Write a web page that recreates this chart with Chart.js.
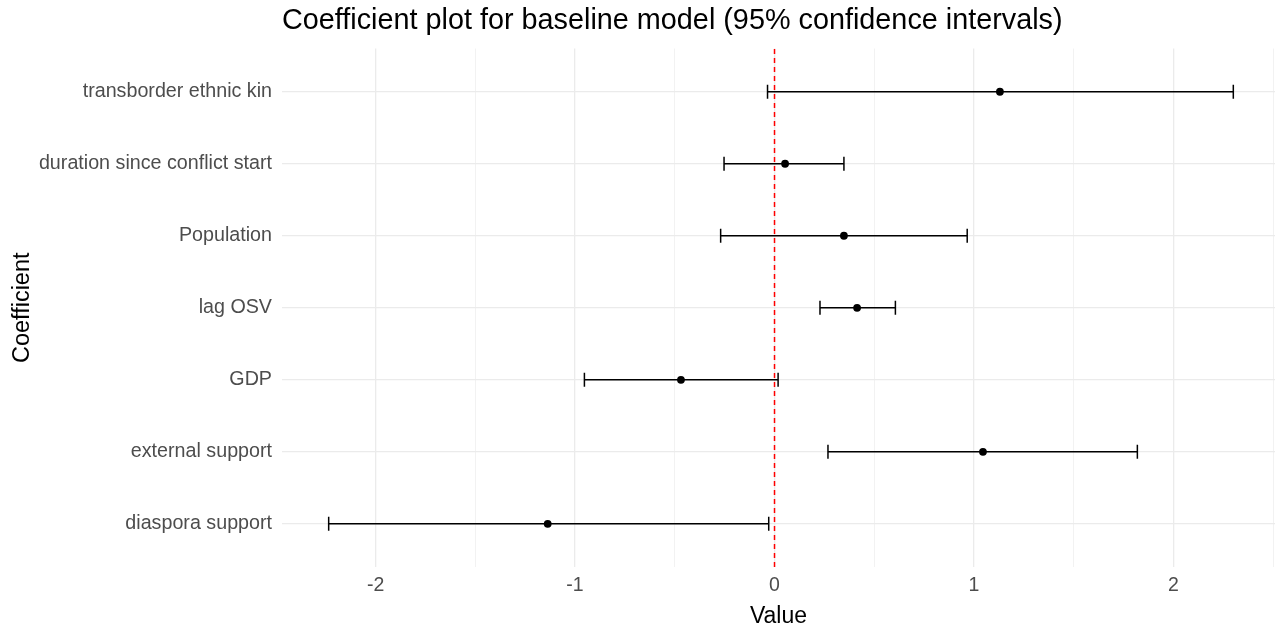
<!DOCTYPE html>
<html><head><meta charset="utf-8">
<script src="https://cdn.jsdelivr.net/npm/chart.js@4.4.1/dist/chart.umd.min.js"></script>
<style>html,body{margin:0;padding:0;background:#fff;overflow:hidden;} #wrap{width:1275px;height:633px;position:relative;}</style>
</head><body><div id="wrap"><canvas id="c"></canvas></div>
<script>
// ---- data (bottom to top, as ggplot orders factor levels) ----
const coefficients = ["diaspora support", "external support", "GDP", "lag OSV", "Population", "duration since conflict start", "transborder ethnic kin"];
const estimates = [-1.137, 1.045, -0.469, 0.414, 0.348, 0.053, 1.13];
const lowerCI = [-2.235, 0.268, -0.953, 0.228, -0.27, -0.253, -0.035];
const upperCI = [-0.029, 1.819, 0.018, 0.606, 0.966, 0.348, 2.30];
const xTickValues = [-2, -1, 0, 1, 2];
const xTickLabels = ["-2", "-1", "0", "1", "2"];
const xMinorBreaks = [-1.5, -0.5, 0.5, 1.5, 2.5];
const referenceLine = 0;
const titleText = "Coefficient plot for baseline model (95% confidence intervals)";
const xTitle = "Value";
const yTitle = "Coefficient";

const FONT = "'Liberation Sans', Arial, sans-serif";
const yMin = -0.6, yMax = coefficients.length - 1 + 0.6;

const errorBarSets = coefficients.map((c, i) => ({
  label: c + " CI",
  data: [{x: lowerCI[i], y: i}, {x: upperCI[i], y: i}],
  showLine: true,
  borderColor: '#000',
  borderWidth: 1.5,
  pointStyle: 'line',
  rotation: 90,
  pointRadius: 7,
  pointBorderWidth: 1.5,
  pointBorderColor: '#000',
  order: 3
}));

const datasets = [
  {
    label: 'zero',
    data: [{x: referenceLine, y: yMin}, {x: referenceLine, y: yMax}],
    showLine: true,
    borderColor: '#FF0000',
    borderWidth: 1.5,
    borderDash: [5, 4],
    pointRadius: 0,
    order: 1
  },
  {
    label: 'estimate',
    data: estimates.map((v, i) => ({x: v, y: i})),
    pointRadius: 3.9,
    pointBackgroundColor: '#000',
    pointBorderColor: '#000',
    pointBorderWidth: 0,
    order: 2
  },
  ...errorBarSets
];

const allX = [...xTickValues, ...xMinorBreaks].sort((a, b) => a - b);

new Chart(document.getElementById('c'), {
  type: 'scatter',
  data: {datasets},
  options: {
    responsive: true,
    maintainAspectRatio: false,
    animation: false,
    devicePixelRatio: 1,
    events: [],
    layout: {padding: {left: 0, top: 0, bottom: 0, right: -9}, autoPadding: false},
    plugins: {
      legend: {display: false},
      tooltip: {enabled: false},
      title: {
        display: true, text: titleText, align: 'start', fullSize: false,
        color: '#000', font: {family: FONT, size: 28.8, weight: 'normal'},
        padding: {top: 4, bottom: 10}
      }
    },
    scales: {
      x: {
        type: 'linear', min: -2.469, max: 2.509,
        afterBuildTicks: s => { s.ticks = allX.map(v => ({value: v})); },
        afterFit: s => { s.height = 66; s.paddingLeft = 0; s.paddingRight = 0; },
        border: {display: false},
        grid: {
          drawTicks: false,
          color: ctx => xTickValues.includes(ctx.tick && ctx.tick.value) ? '#EBEBEB' : '#F2F2F2',
          lineWidth: ctx => xTickValues.includes(ctx.tick && ctx.tick.value) ? 1.3 : 1
        },
        ticks: {
          autoSkip: false, maxRotation: 0, padding: 7, color: '#4D4D4D',
          font: {family: FONT, size: 19.5},
          callback: v => { const k = xTickValues.indexOf(v); return k >= 0 ? xTickLabels[k] : ''; }
        },
        title: {display: true, text: xTitle, color: '#000', font: {family: FONT, size: 23}, padding: {top: 0, bottom: 3}}
      },
      y: {
        type: 'linear', min: yMin, max: yMax,
        afterBuildTicks: s => { s.ticks = coefficients.map((c, i) => ({value: i})); },
        afterFit: s => { s.width = 282; s.paddingTop = 0; s.paddingBottom = 0; },
        border: {display: false},
        grid: {drawTicks: false, color: '#EBEBEB', lineWidth: 1.3},
        ticks: {
          autoSkip: false, padding: 10, color: '#4D4D4D',
          font: {family: FONT, size: 19.7},
          callback: v => coefficients[v] ?? ''
        },
        title: {display: true, text: yTitle, color: '#000', font: {family: FONT, size: 23.5}, padding: {top: 8, bottom: 0}}
      }
    }
  }
});
</script>
</body></html>
